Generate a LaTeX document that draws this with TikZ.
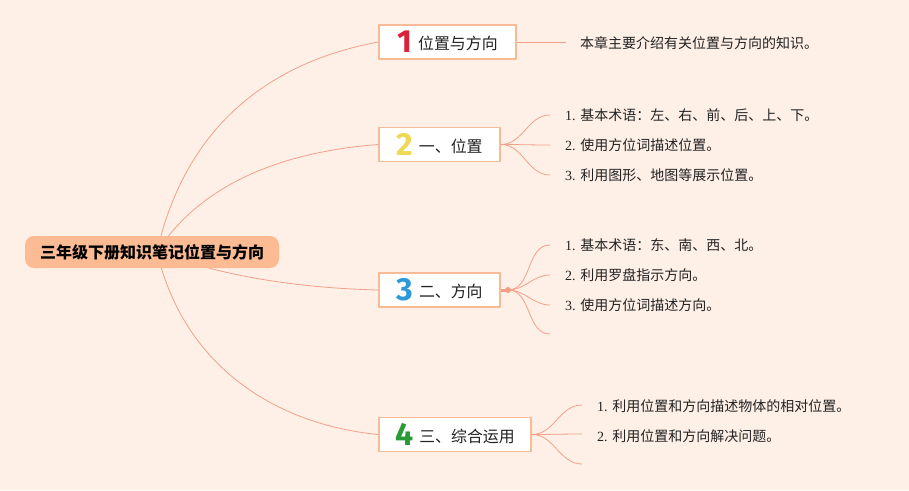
\documentclass[tikz,border=0pt]{standalone}
\usepackage{fontspec}
\setmainfont{Liberation Serif}
\newfontfamily\cjk{Noto Sans CJK SC}
\newfontfamily\numf{Fira Sans}
\definecolor{bgc}{HTML}{FEF0E6}
\definecolor{rootc}{HTML}{FCBB93}
\definecolor{boxline}{HTML}{F6BC98}
\definecolor{linkc}{HTML}{F2A08A}
\definecolor{nred}{HTML}{D9213A}
\definecolor{nyel}{HTML}{EED955}
\definecolor{nblue}{HTML}{2C9AD8}
\definecolor{ngreen}{HTML}{2A9A36}
\definecolor{txt}{HTML}{222222}
\newcommand{\bnum}[2]{\raisebox{-1pt}{\numf\bfseries\fontsize{32}{32}\selectfont\color{#1}#2}\hspace{6pt}}
\newcommand{\btxt}[1]{\raisebox{2pt}{#1}}
\begin{document}
\begin{tikzpicture}[x=1pt,y=-1pt,
  rootbox/.style={fill=rootc,rounded corners=9pt,minimum width=254pt,minimum height=32pt,inner sep=0pt,text=black,font=\cjk\bfseries\fontsize{16}{16}\selectfont},
  branchbox/.style={draw=boxline,line width=1.6pt,fill=white,minimum height=34pt,inner sep=0pt,text=txt,font=\cjk\fontsize{15.9}{16}\selectfont},
  link/.style={draw=linkc,line width=0.8pt},
  leaf/.style={anchor=west,inner sep=0pt,text=txt,font=\fontsize{14}{14}\selectfont}]
\fill[bgc] (0,0) rectangle (909,490);
\useasboundingbox (0,0) rectangle (909,490);
\coordinate (hub) at (157,252);
% branch boxes
\node[branchbox,minimum width=137pt] (b1) at (447.5,42) {\bnum{nred}{1}\btxt{位置与方向}\hspace{12pt}};
\node[branchbox,minimum width=121pt] (b2) at (439.5,144.5) {\bnum{nyel}{2}\btxt{一、位置}\hspace{4pt}};
\node[branchbox,minimum width=121pt] (b3) at (439.5,290) {\bnum{nblue}{3}\btxt{二、方向}\hspace{4pt}};
\node[branchbox,minimum width=152pt] (b4) at (455,434.5) {\bnum{ngreen}{4}\btxt{三、综合运用}\hspace{4pt}};
% main links
\draw[link] (hub) .. controls (182,140) and (255,65) .. (b1.west);
\draw[link] (hub) .. controls (200,185) and (280,152) .. (b2.west);
\draw[link] (hub) .. controls (225,277) and (300,288) .. (b3.west);
\draw[link] (hub) .. controls (185,370) and (280,425) .. (b4.west);
\node[rootbox] (root) at (152,252) {\raisebox{1pt}{三年级下册知识笔记位置与方向}};
% branch 1
\coordinate (e11) at (566,42);
\draw[link] (b1.east) -- (e11);
\node[leaf] (t11) at (580,43) {\cjk 本章主要介绍有关位置与方向的知识。};
% branch 2
\coordinate (e21) at (550,115);
\coordinate (e22) at (550,145);
\coordinate (e23) at (550,175);
\foreach \e in {e21,e22,e23} \draw[link] (b2.east) to[out=0,in=180] (\e);
\node[leaf] (t21) at (565,115) {1. {\cjk 基本术语：左、右、前、后、上、下。}};
\node[leaf] (t22) at (565,145) {2. {\cjk 使用方位词描述位置。}};
\node[leaf] (t23) at (565,175) {3. {\cjk 利用图形、地图等展示位置。}};
% branch 3
\coordinate (j3) at (508,290);
\coordinate (e31) at (550,245);
\coordinate (e32) at (550,275);
\coordinate (e33) at (550,305);
\coordinate (e34) at (550,334);
\draw[draw=linkc,line width=3pt] (b3.east) -- (j3);
\fill[linkc] (j3) circle (3pt);
\foreach \e in {e31,e32,e33,e34} \draw[link] (j3) to[out=0,in=180] (\e);
\node[leaf] (t31) at (565,245) {1. {\cjk 基本术语：东、南、西、北。}};
\node[leaf] (t32) at (565,275) {2. {\cjk 利用罗盘指示方向。}};
\node[leaf] (t33) at (565,305) {3. {\cjk 使用方位词描述方向。}};
% branch 4
\coordinate (e41) at (582,405);
\coordinate (e42) at (582,434);
\coordinate (e43) at (582,464);
\foreach \e in {e41,e42,e43} \draw[link] (b4.east) to[out=0,in=180] (\e);
\node[leaf] (t41) at (597,406) {1. {\cjk 利用位置和方向描述物体的相对位置。}};
\node[leaf] (t42) at (597,436) {2. {\cjk 利用位置和方向解决问题。}};
\end{tikzpicture}
\end{document}
